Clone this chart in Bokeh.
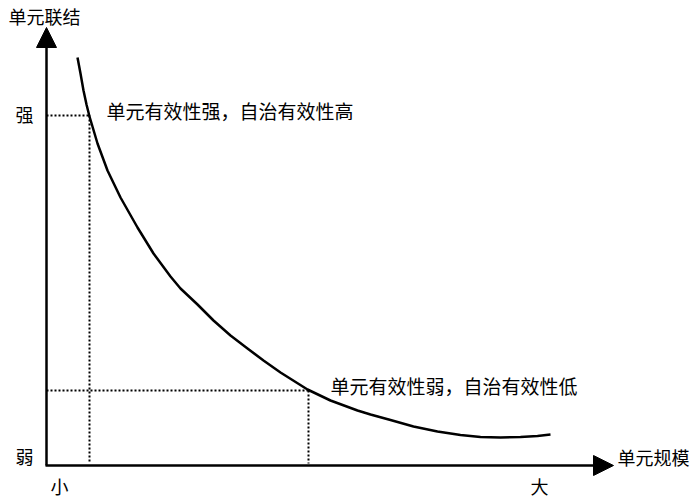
from bokeh.plotting import figure
from bokeh.models import Arrow, NormalHead, ColumnDataSource, Range1d
from bokeh.core.properties import value
from bokeh.embed import file_html
from bokeh.resources import INLINE

# Curve: unit linkage versus unit scale (screen-like coordinates, y grows downward)
curve_x = [77, 80, 83, 86, 89, 97, 107, 120, 137, 153, 170, 180, 197, 213, 230, 247,
           263, 280, 307, 330, 357, 370, 390, 413, 437, 460, 480, 500, 520, 537, 550]
curve_y = [57, 73, 90, 104, 116, 143, 170, 197, 227, 253, 276, 288, 304, 320, 335, 348,
           360, 372, 389, 400, 410, 414, 419.5, 426, 431, 434.5, 436.5, 437, 436.5, 435.5, 434]

# Reference points on the curve (strong / weak)
ref_x = [89, 308]
ref_y = [115, 390]
ref_labels = ["单元有效性强，自治有效性高", "单元有效性弱，自治有效性低"]

# Axis geometry
origin_x, origin_y = 46, 465
y_tip = 27
x_tip = 613

FONT = value("Noto Sans CJK SC")

p = figure(width=700, height=497, output_backend="svg", toolbar_location=None,
           x_range=Range1d(0, 700), y_range=Range1d(497, 0),
           min_border=0, outline_line_color=None)
p.axis.visible = False
p.grid.visible = False
p.background_fill_color = "white"
p.border_fill_color = "white"

# Dotted guide lines from the axes to the two reference points
for rx, ry in zip(ref_x, ref_y):
    p.line([origin_x, rx], [ry, ry], line_color="black", line_width=2, line_dash="2 2")
    p.line([rx, rx], [ry, origin_y - 2], line_color="black", line_width=2, line_dash="2 2")

# Main curve
p.line(curve_x, curve_y, line_color="black", line_width=2.5, line_join="round")

# Axes with arrow heads
p.add_layout(Arrow(end=NormalHead(size=20, fill_color="black", line_color="black"),
                   x_start=origin_x, y_start=origin_y, x_end=origin_x, y_end=y_tip,
                   line_width=2.5, line_color="black"))
p.add_layout(Arrow(end=NormalHead(size=20, fill_color="black", line_color="black"),
                   x_start=origin_x - 1, y_start=origin_y, x_end=x_tip, y_end=origin_y,
                   line_width=2.5, line_color="black"))

# Axis titles and end labels
texts = ColumnDataSource(dict(
    x=[8, 617, 15, 15, 50, 530],
    y=[15, 456, 113, 455, 485, 485],
    t=["单元联结", "单元规模", "强", "弱", "小", "大"],
))
p.text("x", "y", text="t", source=texts, text_font=FONT, text_font_size="18px",
       text_baseline="middle", text_align="left", text_color="black")

# Annotations beside the reference points
ann = ColumnDataSource(dict(x=[106, 330], y=[110, 385], t=ref_labels))
p.text("x", "y", text="t", source=ann, text_font=FONT, text_font_size="19px",
       text_baseline="middle", text_align="left", text_color="black")

open("out.html", "w").write(file_html(p, INLINE))
